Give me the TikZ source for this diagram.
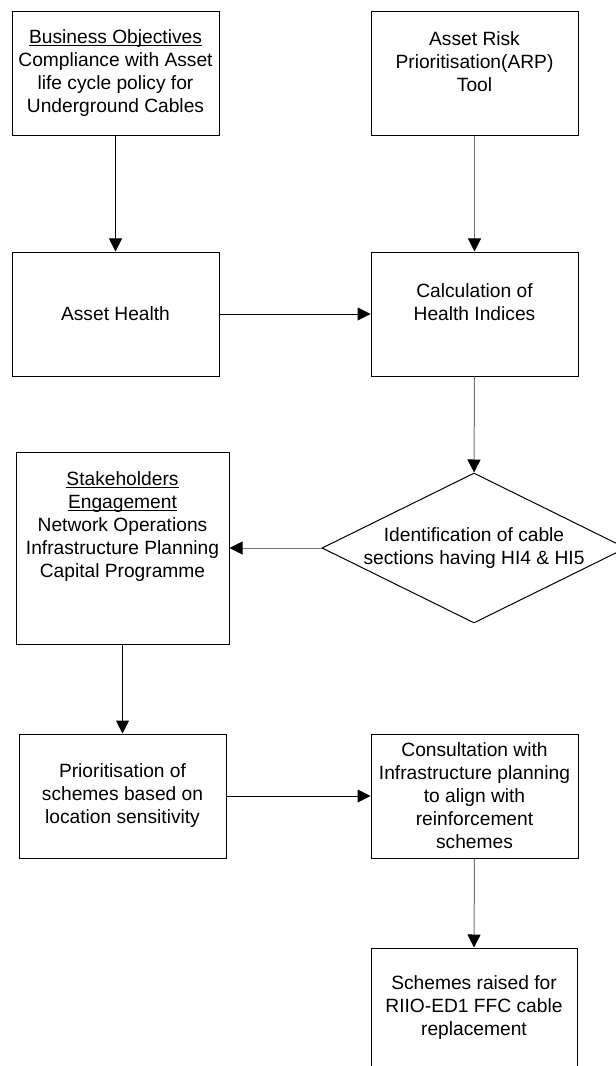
\documentclass[tikz,border=0pt]{standalone}
\usepackage{fontspec}
\setmainfont{Liberation Sans}
\usetikzlibrary{shapes.geometric,arrows.meta}
\newcommand\myul[1]{\setbox0\hbox{#1}\rlap{\rule[-1.6pt]{\wd0}{0.75pt}}\box0}
\tikzset{
  every node/.style={font=\fontsize{14.4pt}{17.25pt}\selectfont},
  boxnode/.style={draw=black, line width=0.75pt, rectangle, align=center, inner sep=0pt,
                  minimum width=155.25pt, minimum height=92.5pt},
  decnode/.style={draw=black, line width=0.75pt, diamond, inner sep=0pt,
                  minimum width=228pt, minimum height=112.5pt},
  conn/.style={draw=black, line width=0.75pt, -{Triangle[length=9.75pt,width=9.75pt,color=black]}},
  gconn/.style={conn, draw=black!55}
}
\begin{document}
\begin{tikzpicture}[x=0.75pt,y=-0.75pt]
\useasboundingbox (0,0) rectangle (616,1066);
\node[boxnode] (b1) at (115.5,73.5) {\myul{Business Objectives}\\Compliance with Asset\\life cycle policy for\\Underground Cables};
\node[boxnode] (b2) at (474.5,73.5) {Asset Risk\\Prioritisation(ARP)\\Tool\\~};
\node[boxnode, minimum height=93pt] (b3) at (115.5,314) {Asset Health};
\node[boxnode, minimum height=93pt] (b4) at (474.5,314) {Calculation of\\Health Indices\\~};
\node[decnode, label={[align=center]center:Identification of cable\\sections having HI4 \& HI5}] (d1) at (474,548) {};
\node[boxnode, minimum width=159.75pt, minimum height=144pt] (b5) at (122.5,548) {\myul{Stakeholders}\\\myul{Engagement}\\Network Operations\\Infrastructure Planning\\Capital Programme\\~\\~};
\node[boxnode, minimum height=93pt] (b6) at (122.5,796) {Prioritisation of\\schemes based on\\location sensitivity};
\node[boxnode, minimum height=93pt] (b7) at (474.5,796) {Consultation with\\Infrastructure planning\\to align with\\reinforcement\\schemes};
\node[boxnode, minimum width=154.5pt, minimum height=90pt] (b8) at (474,1008) {Schemes raised for\\RIIO-ED1 FFC cable\\replacement};
\draw[conn] (b1.south) -- (b3.north);
\draw[gconn] (b2.south) -- (b4.north);
\draw[conn] (b3.east) -- (b4.west);
\draw[gconn] (b4.south) -- (d1.north);
\draw[gconn] (d1.west) -- (b5.east);
\draw[conn] (b5.south) -- (b6.north);
\draw[conn] (b6.east) -- (b7.west);
\draw[gconn] (b7.south) -- (b8.north);
\end{tikzpicture}
\end{document}
